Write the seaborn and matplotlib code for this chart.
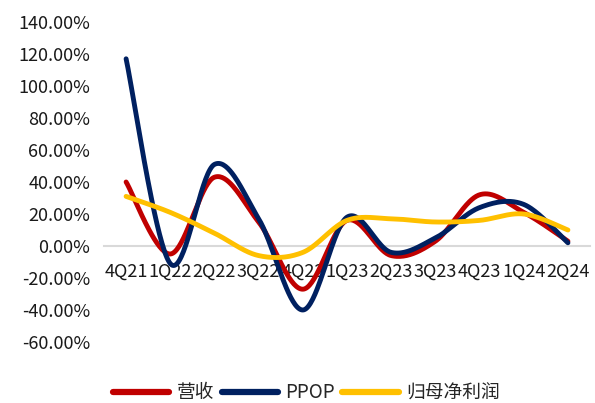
import numpy as np
import pandas as pd
import matplotlib
matplotlib.use("Agg")
import matplotlib.pyplot as plt
import seaborn as sns

sns.set_theme(style="white")
plt.rcParams["font.family"] = ["Noto Sans CJK SC", "DejaVu Sans"]

# Quarterly YoY growth (%)
quarters = ["4Q21", "1Q22", "2Q22", "3Q22", "4Q22", "1Q23",
            "2Q23", "3Q23", "4Q23", "1Q24", "2Q24"]
revenue = [40, -5, 43, 15, -27, 16, -6, 3, 32, 21, 3]
ppop = [117, -11, 51, 17, -40, 18, -4, 5, 24, 26, 2]
net_profit = [31, 21, 8, -6, -4, 16, 17, 15, 16, 20, 10]

series_names = ["营收", "PPOP", "归母净利润"]
series_colors = ["#C00000", "#002060", "#FFC000"]
y_ticks = list(range(-60, 141, 20))


def smooth(values, n=40):
    """Cubic Bezier smoothing through every point (Catmull-Rom tangents)."""
    pts = np.column_stack([np.arange(len(values)), values]).astype(float)
    ext = np.vstack([pts[0], pts, pts[-1]])
    segs = []
    for i in range(len(pts) - 1):
        p0, p1, p2, p3 = ext[i], ext[i + 1], ext[i + 2], ext[i + 3]
        c1 = p1 + (p2 - p0) / 6
        c2 = p2 - (p3 - p1) / 6
        t = np.linspace(0, 1, n, endpoint=(i == len(pts) - 2))[:, None]
        segs.append((1 - t) ** 3 * p1 + 3 * (1 - t) ** 2 * t * c1
                    + 3 * (1 - t) * t ** 2 * c2 + t ** 3 * p2)
    return np.vstack(segs)


frames = []
for name, vals in zip(series_names, [revenue, ppop, net_profit]):
    curve = smooth(vals)
    frames.append(pd.DataFrame({"x": curve[:, 0], "value": curve[:, 1],
                                "series": name}))
df = pd.concat(frames, ignore_index=True)

fig = plt.figure(figsize=(5.95, 4.03), dpi=100)
ax = fig.add_axes([0.1748, 0.1514, 0.8168, 0.794])

sns.lineplot(data=df, x="x", y="value", hue="series",
             hue_order=series_names, palette=series_colors,
             sort=False, estimator=None, linewidth=3.5, ax=ax,
             solid_capstyle="round")

ax.set_xlim(-0.5, len(quarters) - 0.5)
ax.set_ylim(-60, 140)
ax.set_xticks(range(len(quarters)))
ax.set_xticklabels(quarters)
ax.set_yticks(y_ticks)
ax.set_yticklabels([f"{v:.2f}%" for v in y_ticks])
ax.set_xlabel("")
ax.set_ylabel("")

for side in ["left", "right", "top"]:
    ax.spines[side].set_visible(False)
ax.spines["bottom"].set_position(("data", 0))
ax.spines["bottom"].set_color("#d9d9d9")
ax.spines["bottom"].set_linewidth(1.5)
ax.spines["bottom"].set_zorder(0)

ax.tick_params(axis="x", length=0, pad=12, labelsize=13, labelcolor="#1a1a1a")
ax.tick_params(axis="y", length=0, pad=10, labelsize=13, labelcolor="#1a1a1a")

handles, labels = ax.get_legend_handles_labels()
ax.legend_.remove()
for h in handles:
    h.set_linewidth(4.5)
    h.set_solid_capstyle("round")
fig.legend(handles, labels, loc="center", bbox_to_anchor=(0.515, 0.025),
           ncol=3, frameon=False, fontsize=13.5, handlelength=3.0,
           handletextpad=0.4, columnspacing=0.4)

fig.savefig("out.png", dpi=100)
